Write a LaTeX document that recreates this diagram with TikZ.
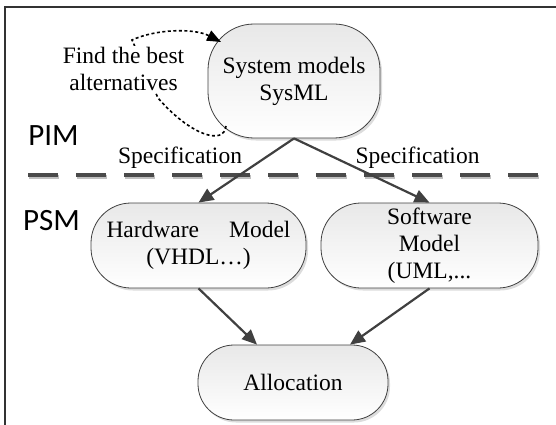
\documentclass[tikz,border=0pt]{standalone}
\usepackage{fontspec}
\setmainfont{Liberation Serif}
\newfontfamily\levelfont{Carlito}
\usetikzlibrary{arrows.meta,shadows}
\definecolor{ink}{HTML}{404040}
\definecolor{sep}{HTML}{4A4A4A}
\tikzset{
  model/.style={draw=ink, line width=0.8pt, top color=black!9, bottom color=white,
    drop shadow={shadow xshift=2pt, shadow yshift=-2.5pt, opacity=0.28},
    inner sep=0pt, align=center, font=\fontsize{23.5}{27}\selectfont},
  flow/.style={draw=ink, line width=2.2pt, -{Triangle[length=15pt,width=13pt]}},
  txt/.style={font=\fontsize{23.5}{27}\selectfont, inner sep=0pt, align=center},
  level/.style={font=\levelfont\fontsize{31}{31}\selectfont, inner sep=0pt, anchor=base},
}
\begin{document}
\begin{tikzpicture}[x=1pt,y=-1pt]
\useasboundingbox (0,0) rectangle (556,425);

% outer frame (top and left rules)
\draw[line width=1.3pt, black!80] (5,425) -- (5,7) -- (556,7);

% separator between PIM and PSM
\draw[line width=4pt, black!25, dash pattern=on 30pt off 18pt] (29,177) -- (539,177);
\draw[line width=4pt, sep, dash pattern=on 30pt off 18pt] (28,175) -- (538,175);

% model nodes
\node[model, rounded corners=46pt, minimum width=172pt, minimum height=114pt] (sys) at (294,81)
  {System models\\SysML};
\node[model, rounded corners=40pt, minimum width=215pt, minimum height=85pt] (hw) at (198.5,245.5)
  {Hardware\hspace{30pt}Model\\(VHDL…)};
\node[model, rounded corners=40pt, minimum width=217pt, minimum height=85pt] (sw) at (429.5,245.5)
  {Software\\Model\\(UML,...};
\node[model, rounded corners=36pt, minimum width=190pt, minimum height=75pt] (alloc) at (293,382.5)
  {Allocation};

% level labels
\node[level] (pim) at (53.5,145) {PIM};
\node[level] (psm) at (51.5,230) {PSM};
\node[txt, anchor=base] (specl) at (180,163) {Specification};
\node[txt, anchor=base] (specr) at (417.5,163) {Specification};

% exploration loop around the system model
\coordinate (loopout) at (226,126);
\coordinate (loopin) at (221,42);
\draw[line width=1.6pt, dash pattern=on 3pt off 2.5pt, -{Triangle[length=14pt,width=11pt]}]
  (loopout) .. controls (224,146) and (190,135) .. (158,98)
  -- (132,40) .. controls (156,29) and (194,28) .. (loopin);
\node[txt, fill=white, inner sep=1pt] (alt) at (123.5,69) {Find the best\\alternatives};

% refinement arrows
\draw[flow] (sys.south) -- (hw.north);
\draw[flow] (sys.south) -- (sw.north);
\draw[flow] (hw.south) -- ([xshift=-36pt]alloc.north);
\draw[flow] (sw.south) -- ([xshift=57pt]alloc.north);
\end{tikzpicture}
\end{document}
